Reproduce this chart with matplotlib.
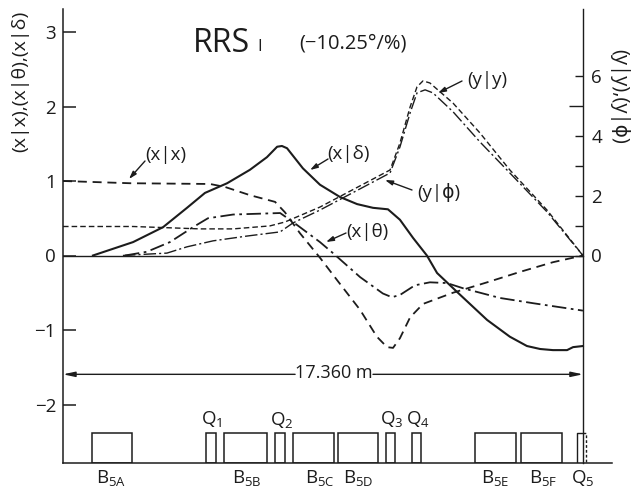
import matplotlib
matplotlib.use("Agg")
import matplotlib.pyplot as plt
from matplotlib.patches import Rectangle

plt.rcParams['font.family'] = ['Open Sans', 'DejaVu Sans']
plt.rcParams['mathtext.fontset'] = 'custom'
plt.rcParams['mathtext.rm'] = 'Open Sans'
plt.rcParams['mathtext.default'] = 'rm'

INK = '#1c1c1c'

# (x|delta)
xd_s = [1.00, 2.34, 3.34, 4.14, 4.74, 5.48, 6.24, 6.81, 7.15, 7.31, 7.48, 8.01, 8.58, 9.25, 9.82, 10.35, 10.85, 11.25, 11.69, 12.15, 12.49, 13.16, 14.16, 14.92, 15.49, 15.93, 16.36, 16.83, 17.03, 17.36]
xd_v = [0, .18, .38, .64, .84, .97, 1.15, 1.32, 1.46, 1.47, 1.44, 1.17, .95, .785, .69, .64, .62, .48, .235, 0, -.235, -.49, -.865, -1.09, -1.215, -1.255, -1.27, -1.27, -1.23, -1.215]
# (x|x)
xx_s = [0, 2.24, 4.91, 5.41, 6.24, 7.08, 7.41, 7.91, 8.58, 9.15, 9.92, 10.48, 10.82, 11.02, 11.25, 11.59, 12.02, 13.02, 14.16, 15.26, 16.36, 17.36]
xx_v = [1.0, .97, .96, .92, .81, .72, .58, .30, -.03, -.33, -.73, -1.09, -1.23, -1.24, -1.11, -.83, -.65, -.50, -.36, -.22, -.09, 0]
# (x|theta)
xt_s = [2.07, 2.80, 3.57, 4.34, 4.84, 5.68, 7.25, 7.68, 8.58, 9.02, 9.92, 10.68, 10.98, 11.25, 11.75, 12.25, 12.82, 13.36, 14.59, 15.69, 17.36]
xt_v = [0, .05, .18, .38, .50, .55, .57, .45, .18, .03, -.29, -.51, -.56, -.53, -.40, -.36, -.37, -.44, -.57, -.64, -.74]
# (y|y), right scale
yy_s = [0, 2.34, 4.57, 5.68, 6.91, 7.41, 8.58, 10.92, 11.25, 11.59, 11.82, 12.02, 12.25, 13.02, 13.92, 14.92, 16.16, 17.36]
yy_v = [.97, .97, .89, .89, .99, 1.12, 1.62, 2.86, 3.76, 4.97, 5.64, 5.84, 5.77, 5.10, 4.10, 2.86, 1.52, 0]
# (y|phi), right scale
yp_s = [2.0, 2.9, 3.47, 4.14, 5.01, 6.14, 7.25, 7.68, 8.58, 10.92, 11.25, 11.59, 11.82, 12.09, 12.35, 13.02, 13.92, 14.92, 16.16, 17.36]
yp_v = [0, .05, .08, .29, .49, .65, .79, 1.09, 1.52, 2.76, 3.63, 4.77, 5.44, 5.54, 5.44, 4.81, 3.80, 2.76, 1.46, 0]

# magnets
mag_names = ['B$_{5A}$', 'Q$_1$', 'B$_{5B}$', 'Q$_2$', 'B$_{5C}$', 'B$_{5D}$', 'Q$_3$', 'Q$_4$', 'B$_{5E}$', 'B$_{5F}$', 'Q$_5$']
mag_start = [.97, 4.77, 5.38, 7.08, 7.68, 9.18, 10.78, 11.65, 13.76, 15.29, 17.16]
mag_end = [2.30, 5.11, 6.81, 7.41, 9.05, 10.52, 11.09, 11.95, 15.13, 16.66, 17.46]
mag_top = -2.38
mag_label_px = [(111, 478), (212, 419), (247, 478), (282, 420), (320, 478), (358, 478), (392, 419), (418, 419), (495, 478), (543, 478), (583, 478)]

length_m = 17.36
left_ticks = [-2, -1, 0, 1, 2, 3]
left_tick_labels = ['−2', '−1', '0', '1', '2', '3']
right_ticks = [0, 2, 4, 6]
right_minor = [1, 3, 5]

W, H = 639, 491
fig = plt.figure(figsize=(W / 100, H / 100), dpi=100)
L, R, T, B = 63, 612, 9, 463
ax = fig.add_axes([L / W, 1 - B / H, (R - L) / W, (B - T) / H])
ax.set_xlim(0, (R - L) / 29.95)
ax.set_ylim(-(B - 255.5) / 74.5, (255.5 - T) / 74.5)
ax2 = ax.twinx()
ax2.set_ylim(-(B - 255.5) / 29.9, (255.5 - T) / 29.9)
ax.patch.set_visible(False)

for a in (ax, ax2):
    a.spines['top'].set_visible(False)
    for s in a.spines.values():
        s.set_linewidth(1.1)
        s.set_color(INK)
ax.spines['right'].set_visible(False)
ax2.spines['left'].set_visible(False)
ax2.spines['bottom'].set_visible(False)
ax2.spines['right'].set_position(('data', length_m))
ax2.spines['right'].set_linewidth(1.0)

ax.set_xticks([])
ax.set_yticks(left_ticks)
ax.set_yticklabels(left_tick_labels, fontsize=13.5, color=INK)
ax.tick_params(axis='y', direction='in', length=9, width=1.1, pad=5, color=INK)
ax2.set_yticks(right_ticks)
ax2.set_yticklabels([str(t) for t in right_ticks], fontsize=13.5, color=INK)
ax2.tick_params(axis='y', which='major', direction='in', length=5.5, width=1.0, pad=6, color=INK)
ax2.set_yticks(right_minor, minor=True)
ax2.tick_params(axis='y', which='minor', direction='in', length=5.5, width=1.0, color=INK)
ax2.yaxis.get_minor_ticks()[-1].tick2line.set_markersize(10)

ax.axhline(0, xmin=0, xmax=length_m / ax.get_xlim()[1], color=INK, lw=1.0)

ax.plot(xd_s, xd_v, color=INK, lw=1.5, solid_joinstyle='round')
ax.plot(xx_s, xx_v, color=INK, lw=1.3, dashes=(5, 3.2))
ax.plot(xt_s, xt_v, color=INK, lw=1.3, dashes=(8, 2.5, 1.5, 2.5))
ax2.plot(yy_s, yy_v, color=INK, lw=1.0, dashes=(4, 2.2))
ax2.plot(yp_s, yp_v, color=INK, lw=1.0, dashes=(9, 2.2, 1.5, 2.2))

for name, s, e, (px, py) in zip(mag_names, mag_start, mag_end, mag_label_px):
    ybase = ax.get_ylim()[0]
    if name == 'Q$_5$':
        ax.plot([s, s, length_m], [ybase, mag_top, mag_top], color=INK, lw=1.0)
        ax.plot([length_m, e, e], [mag_top, mag_top, ybase], color=INK, lw=1.0, ls=(0, (2, 1.5)))
    else:
        ax.add_patch(Rectangle((s, ybase), e - s, mag_top - ybase, fill=False, ec=INK, lw=1.1))
    fig.text(px / W, 1 - py / H, name, ha='center', va='center', fontsize=13.5, color=INK)


def fx(p):
    return (p[0] / W, 1 - p[1] / H)


def label(txt, pos, start, end):
    fig.text(*fx(pos), txt, ha='center', va='center', fontsize=13.5, color=INK)
    ax.annotate('', xy=fx(end), xytext=fx(start), xycoords='figure fraction', textcoords='figure fraction',
                arrowprops=dict(arrowstyle='-|>,head_length=0.45,head_width=0.14', color=INK, lw=1.0, shrinkA=0, shrinkB=0))


label('(x|x)', (166, 155), (145, 161), (129, 179))
label('(x|δ)', (349, 154), (328, 159), (310, 170))
label('(y|y)', (487, 80), (462, 81), (438, 93))
label('(y|ϕ)', (439, 193), (412, 190), (385, 180))
label('(x|θ)', (367, 232), (346, 233), (326, 242))

fig.text(193 / W, 1 - 44 / H, 'RRS', ha='left', va='center', fontsize=23, color=INK)
fig.text(260 / W, 1 - 47 / H, 'I', ha='center', va='center', fontsize=12, color=INK)
fig.text(353 / W, 1 - 44 / H, '(−10.25°/%)', ha='center', va='center', fontsize=14.5, color=INK)

fig.text(20 / W, 1 - 81 / H, '(x|x),(x|θ),(x|δ)', rotation=90, ha='center', va='center', fontsize=14, color=INK)
fig.text(619 / W, 1 - 96 / H, '(y|y),(y|ϕ)', rotation=270, ha='center', va='center', fontsize=14.5, color=INK)

fig.text(333.5 / W, 1 - 373 / H, '17.360 m', ha='center', va='center', fontsize=13, color=INK)
ymark = -1.595
for a, b in ((7.75, 0.0), (10.35, length_m)):
    ax.annotate('', xy=(b, ymark), xytext=(a, ymark),
                arrowprops=dict(arrowstyle='-|>,head_length=0.7,head_width=0.15', color=INK, lw=1.0, shrinkA=0, shrinkB=0))

fig.savefig('out.png', dpi=100)
